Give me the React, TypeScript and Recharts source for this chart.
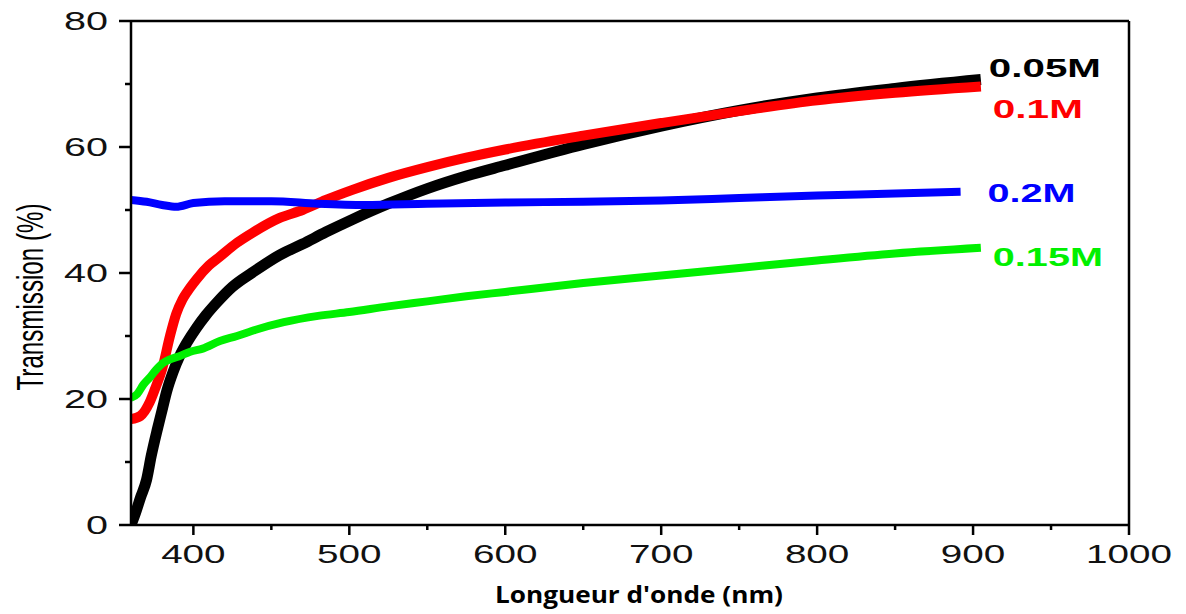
import { Line, LineChart, ReferenceLine, XAxis, YAxis } from "recharts";

const blackNm = [360, 363, 366, 370, 373, 377, 380, 383, 387, 391, 396, 402, 408, 415, 425, 438, 455, 470, 485, 502, 525, 550, 575, 600, 650, 700, 750, 800, 850, 905];
const blackT = [0, 2, 4.3, 7.2, 11, 15.3, 18.3, 21.3, 24.3, 26.7, 29, 31.3, 33.3, 35.3, 37.8, 40.1, 42.8, 44.6, 46.5, 48.5, 51, 53.4, 55.4, 57.1, 60.4, 63.3, 65.8, 67.8, 69.3, 70.7];

const redNm = [360, 366, 372, 376, 380, 385, 389, 393, 396, 402, 410, 417, 428, 438, 455, 470, 485, 502, 525, 550, 575, 600, 650, 700, 750, 800, 850, 905];
const redT = [16.8, 17.3, 19.5, 22, 24.8, 30, 33.5, 35.8, 37, 39, 41.2, 42.6, 44.8, 46.4, 48.7, 50, 51.6, 53.2, 55.1, 56.8, 58.3, 59.6, 61.8, 63.8, 65.7, 67.4, 68.6, 69.6];

const blueNm = [360, 370, 380, 389, 400, 420, 450, 480, 510, 550, 600, 650, 700, 750, 800, 850, 892];
const blueT = [51.6, 51.3, 50.8, 50.5, 51.1, 51.4, 51.4, 51.0, 50.8, 51.0, 51.2, 51.3, 51.5, 51.9, 52.3, 52.6, 52.9];

const greenNm = [360, 364, 368, 372, 376, 380, 385, 391, 398, 406, 417, 428, 440, 458, 480, 500, 525, 550, 575, 600, 650, 700, 750, 800, 850, 905];
const greenT = [20.2, 20.8, 22.3, 23.4, 24.6, 25.6, 26.3, 26.8, 27.5, 28, 29.2, 30, 31, 32.2, 33.2, 33.8, 34.7, 35.5, 36.3, 37, 38.4, 39.6, 40.8, 42, 43.1, 44];

const xTicks = [400, 450, 500, 550, 600, 650, 700, 750, 800, 850, 900, 950, 1000];
const yTicks = [0, 10, 20, 30, 40, 50, 60, 70, 80];

const toRows = (nm: number[], t: number[]) => nm.map((x, i) => ({ x, t: t[i] }));

const series = [
  { name: "0.05M", color: "#000000", width: 11, data: toRows(blackNm, blackT), dx: 8, dy: -3, len: 112 },
  { name: "0.1M", color: "#ff0000", width: 10, data: toRows(redNm, redT), dx: 12, dy: 31, len: 90 },
  { name: "0.2M", color: "#0000ff", width: 8, data: toRows(blueNm, blueT), dx: 27, dy: 10, len: 88 },
  { name: "0.15M", color: "#00f000", width: 8, data: toRows(greenNm, greenT), dx: 12, dy: 18, len: 110 },
];

const font = "'Liberation Sans', Arial, sans-serif";

function XTick(props: any) {
  const { x, y, payload } = props;
  const major = payload.value % 100 === 0;
  const label = String(payload.value);
  return (
    <g>
      <line x1={x} y1={y} x2={x} y2={y + (major ? 10 : 5)} stroke="#000" strokeWidth={2.5} />
      {major && (
        <text x={x} y={y + 38} textAnchor="middle" fontFamily={font} fontSize={25} fill="#111"
          textLength={label.length * 21.5} lengthAdjust="spacingAndGlyphs">
          {label}
        </text>
      )}
    </g>
  );
}

function YTick(props: any) {
  const { x, y, payload } = props;
  const major = payload.value % 20 === 0;
  const label = String(payload.value);
  return (
    <g>
      <line x1={x} y1={y} x2={x - (major ? 12 : 6)} y2={y} stroke="#000" strokeWidth={2.5} />
      {major && (
        <text x={x - 23} y={y + 9} textAnchor="end" fontFamily={font} fontSize={26} fill="#111"
          textLength={label.length * 22} lengthAdjust="spacingAndGlyphs">
          {label}
        </text>
      )}
    </g>
  );
}

function endLabel(s: (typeof series)[number]) {
  return (props: any) => {
    const { x, y, index } = props;
    if (index !== s.data.length - 1) return null;
    return (
      <text key={s.name} x={x + s.dx} y={y + s.dy} fontFamily={font} fontWeight="bold" fontSize={26}
        fill={s.color} textLength={s.len} lengthAdjust="spacingAndGlyphs">
        {s.name}
      </text>
    );
  };
}

export default function App() {
  return (
    <div style={{ position: "absolute", left: 0, top: 0, background: "#fff" }}>
      <LineChart width={1186} height={614} margin={{ top: 21, right: 57, bottom: 0, left: 0 }}>
        <XAxis
          type="number"
          dataKey="x"
          domain={[360, 1000]}
          ticks={xTicks}
          allowDataOverflow
          height={89}
          tickSize={0}
          tickMargin={0}
          tickLine={false}
          axisLine={{ stroke: "#000", strokeWidth: 2.5 }}
          tick={<XTick />}
          interval={0}
          label={{
            content: (p: any) => {
              const vb = p.viewBox;
              return (
                <text x={vb.x + vb.width / 2 + 9} y={603} textAnchor="middle" fontFamily="'Open Sans', sans-serif"
                  fontWeight="bold" fontSize={23} fill="#000" textLength={288} lengthAdjust="spacingAndGlyphs">
                  Longueur d'onde (nm)
                </text>
              );
            },
          }}
        />
        <YAxis
          type="number"
          dataKey="t"
          domain={[0, 80]}
          ticks={yTicks}
          allowDataOverflow
          width={131}
          tickSize={0}
          tickMargin={0}
          tickLine={false}
          axisLine={{ stroke: "#000", strokeWidth: 2.5 }}
          tick={<YTick />}
          interval={0}
          label={{
            content: (p: any) => {
              const vb = p.viewBox;
              const cy = vb.y + vb.height / 2 + 24;
              return (
                <text transform={`translate(43, ${cy}) rotate(-90)`} textAnchor="middle" fontFamily={font}
                  fontSize={37} fill="#000" textLength={187} lengthAdjust="spacingAndGlyphs">
                  Transmission (%)
                </text>
              );
            },
          }}
        />
        <ReferenceLine y={80} stroke="#000" strokeWidth={2.5} />
        <ReferenceLine x={1000} stroke="#000" strokeWidth={2.5} />
        {series.map((s) => (
          <Line
            key={s.name}
            data={s.data}
            dataKey="t"
            type="monotone"
            stroke={s.color}
            strokeWidth={s.width}
            dot={false}
            activeDot={false}
            isAnimationActive={false}
            label={endLabel(s)}
          />
        ))}
      </LineChart>
    </div>
  );
}
